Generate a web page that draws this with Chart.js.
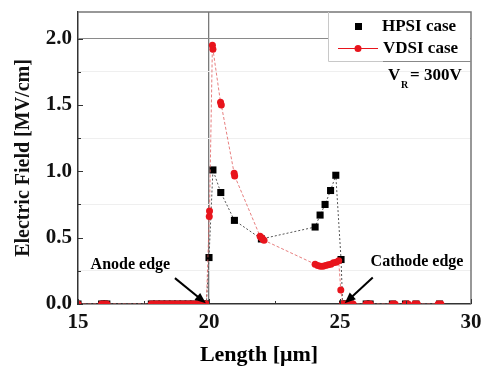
<!DOCTYPE html>
<html>
<head>
<meta charset="utf-8">
<script src="https://cdn.jsdelivr.net/npm/chart.js@4"></script>
<style>
  html, body { margin: 0; padding: 0; background: #fff; }
  #wrap { width: 489px; height: 372px; }
</style>
</head>
<body>
<div id="wrap"><canvas id="myChart"></canvas></div>
<script>
// Length [um] / Electric field [MV/cm]
var hpsiX = [15, 15.9, 16.0, 16.1, 17.8, 18.0, 18.2, 18.4, 18.6, 18.8, 19.0, 19.2, 19.4, 19.6, 19.8, 19.9,
             20.0, 20.15, 20.45, 20.97, 22.0, 24.05, 24.24, 24.43, 24.64, 24.84, 25.04, 25.1,
             25.2, 25.4, 26.0, 26.15, 27.0, 27.5, 27.9, 28.8];
var hpsiY = [0, 0, 0, 0, 0, 0, 0, 0, 0, 0, 0, 0, 0, 0, 0, 0,
             0.35, 1.01, 0.84, 0.63, 0.49, 0.58, 0.67, 0.75, 0.855, 0.97, 0.335, 0,
             0, 0, 0, 0, 0, 0, 0, 0];

var vdsiX = [15, 15.9, 16.0, 16.1, 17.8, 17.9, 18.0, 18.1, 18.2, 18.3, 18.4, 18.5, 18.6, 18.7, 18.8, 18.9,
             19.0, 19.1, 19.2, 19.3, 19.4, 19.5, 19.6, 19.7, 19.8, 19.9,
             20.01, 20.02, 20.13, 20.15, 20.44, 20.47, 20.96, 20.98, 21.95, 22.0, 22.05, 22.1,
             24.05, 24.15, 24.25, 24.35, 24.45, 24.55, 24.65, 24.75, 24.85, 24.95, 25.03, 25.1,
             25.2, 25.3, 25.4, 25.5, 26.0, 26.15, 27.0, 27.1, 27.5, 27.6, 27.85, 27.95, 28.75, 28.85];
var vdsiY = [0, 0, 0, 0, 0, 0, 0, 0, 0, 0, 0, 0, 0, 0, 0, 0,
             0, 0, 0, 0, 0, 0, 0, 0, 0, 0,
             0.66, 0.70, 1.95, 1.92, 1.52, 1.50, 0.985, 0.965, 0.51, 0.50, 0.49, 0.48,
             0.30, 0.29, 0.285, 0.285, 0.29, 0.295, 0.30, 0.31, 0.315, 0.325, 0.106, 0,
             0, 0, 0, 0, 0, 0, 0, 0, 0, 0, 0, 0, 0, 0];

var xTicks = [15, 20, 25, 30];
var yTicks = [0.0, 0.5, 1.0, 1.5, 2.0];
var seriesNames = ['HPSI case', 'VDSI case'];

var serif = "'Liberation Serif', 'Times New Roman', serif";

function pts(xs, ys) {
    return xs.map(function(x, i) { return {x: x, y: ys[i]}; });
}

var extras = {
    id: 'extras',
    afterDraw: function(chart) {
        var c = chart.ctx, a = chart.chartArea;
        var xs = chart.scales.x, ys = chart.scales.y;
        c.save();

        // top / right frame
        c.strokeStyle = '#777';
        c.lineWidth = 1.5;
        c.beginPath();
        c.moveTo(a.left, a.top);
        c.lineTo(a.right, a.top);
        c.lineTo(a.right, a.bottom);
        c.stroke();

        // inward ticks
        c.strokeStyle = '#333';
        c.lineWidth = 1;
        xs.ticks.forEach(function(t) {
            var px = Math.round(xs.getPixelForValue(t.value)) + 0.5;
            var len = xTicks.indexOf(t.value) >= 0 ? 5 : 3;
            c.beginPath(); c.moveTo(px, a.bottom); c.lineTo(px, a.bottom - len); c.stroke();
        });
        ys.ticks.forEach(function(t) {
            if (t.value > 2.1) return;
            var py = Math.round(ys.getPixelForValue(t.value)) + 0.5;
            var len = yTicks.indexOf(t.value) >= 0 ? 5 : 3;
            c.beginPath(); c.moveTo(a.left, py); c.lineTo(a.left + len, py); c.stroke();
        });

        // legend box
        var lx = 328, ly = a.top, lr = a.right, lb = 61;
        c.fillStyle = '#fff';
        c.fillRect(lx + 1, ly + 1, lr - lx - 2, lb - ly - 1);
        c.strokeStyle = '#c8c8c8';
        c.lineWidth = 1;
        c.beginPath(); c.moveTo(lx + 0.5, ly); c.lineTo(lx + 0.5, lb + 0.5); c.lineTo(lr, lb + 0.5); c.stroke();
        c.strokeStyle = '#888';
        c.beginPath(); c.moveTo(383, lb + 0.5); c.lineTo(lr, lb + 0.5); c.stroke();

        c.font = 'bold 17px ' + serif;
        c.textBaseline = 'middle';
        c.textAlign = 'left';
        c.fillStyle = '#000';
        c.fillRect(355, 23, 7, 7);
        c.fillText(seriesNames[0], 382, 27);
        c.strokeStyle = '#e8141c';
        c.beginPath(); c.moveTo(338, 48.5); c.lineTo(378, 48.5); c.stroke();
        c.fillStyle = '#e8141c';
        c.beginPath(); c.arc(358, 48.5, 3.5, 0, Math.PI * 2); c.fill();
        c.fillStyle = '#000';
        c.fillText(seriesNames[1], 383, 49);

        // V_R = 300V
        c.fillText('V', 388, 76);
        c.font = 'bold 10px ' + serif;
        c.fillText('R', 401, 85);
        c.font = 'bold 17px ' + serif;
        c.fillText('= 300V', 410, 76);

        // edge annotations
        function arrow(x1, y1, x2, y2) {
            var p1x = xs.getPixelForValue(x1), p1y = ys.getPixelForValue(y1);
            var p2x = xs.getPixelForValue(x2), p2y = ys.getPixelForValue(y2);
            var ang = Math.atan2(p2y - p1y, p2x - p1x);
            c.strokeStyle = '#000';
            c.lineWidth = 2;
            c.beginPath(); c.moveTo(p1x, p1y);
            c.lineTo(p2x - 8 * Math.cos(ang), p2y - 8 * Math.sin(ang)); c.stroke();
            c.fillStyle = '#000';
            c.beginPath();
            c.moveTo(p2x, p2y);
            c.lineTo(p2x - 11 * Math.cos(ang) + 4.5 * Math.sin(ang), p2y - 11 * Math.sin(ang) - 4.5 * Math.cos(ang));
            c.lineTo(p2x - 11 * Math.cos(ang) - 4.5 * Math.sin(ang), p2y - 11 * Math.sin(ang) + 4.5 * Math.cos(ang));
            c.closePath(); c.fill();
        }
        arrow(18.7, 0.195, 19.88, 0.005);
        arrow(26.25, 0.2, 25.18, 0.005);

        c.font = 'bold 16px ' + serif;
        c.textAlign = 'center';
        c.fillStyle = '#000';
        c.fillText('Anode edge', xs.getPixelForValue(17.0), ys.getPixelForValue(0.294));
        c.fillText('Cathode edge', xs.getPixelForValue(27.94), ys.getPixelForValue(0.317));

        // x axis title
        c.font = 'bold 22px ' + serif;
        c.fillText('Length [\u03bcm]', 259, 355);

        c.restore();
    }
};

var ctx = document.getElementById('myChart');
var myChart = new Chart(ctx, {
    type: 'line',
    data: {
        datasets: [{
            label: seriesNames[1],
            data: pts(vdsiX, vdsiY),
            borderColor: 'rgba(225, 95, 95, 0.8)',
            borderWidth: 1,
            borderDash: [3, 2],
            backgroundColor: '#e8141c',
            pointBackgroundColor: '#e8141c',
            pointBorderColor: '#e8141c',
            pointBorderWidth: 0,
            pointRadius: 3.5,
            pointStyle: 'circle',
            order: 0
        }, {
            label: seriesNames[0],
            data: pts(hpsiX, hpsiY),
            borderColor: '#555',
            borderWidth: 1,
            borderDash: [2, 2],
            pointBackgroundColor: '#000',
            pointBorderColor: '#000',
            pointBorderWidth: 0,
            pointRadius: 5,
            pointStyle: 'rect',
            order: 1
        }]
    },
    options: {
        responsive: true,
        maintainAspectRatio: false,
        devicePixelRatio: 1,
        animation: false,
        layout: { padding: { left: 0, right: 18, top: 12, bottom: 0 } },
        scales: {
            x: {
                type: 'linear',
                min: 15,
                max: 30,
                ticks: {
                    stepSize: 2.5,
                    autoSkip: false,
                    maxRotation: 0,
                    padding: 6,
                    color: '#111',
                    font: { family: serif, size: 21, weight: 'bold' },
                    callback: function(v) { return xTicks.indexOf(v) >= 0 ? String(v) : ''; }
                },
                grid: {
                    drawTicks: false,
                    lineWidth: 1.3,
                    color: function(c) { return c.tick && c.tick.value === 20 ? '#7a7a7a' : 'rgba(0,0,0,0)'; }
                },
                border: { color: '#333', width: 1.5 },
                afterFit: function(s) { s.height = 68; s.paddingLeft = 0; s.paddingRight = 0; }
            },
            y: {
                min: 0,
                max: 2.2,
                ticks: {
                    stepSize: 0.25,
                    autoSkip: false,
                    padding: 6,
                    color: '#111',
                    font: { family: serif, size: 21, weight: 'bold' },
                    callback: function(v) { return yTicks.indexOf(v) >= 0 ? v.toFixed(1) : ''; }
                },
                grid: {
                    drawTicks: false,
                    lineWidth: 1,
                    color: function(c) {
                        if (!c.tick) return 'rgba(0,0,0,0)';
                        var v = c.tick.value;
                        if (v === 2) return '#8a8a8a';
                        if (Math.abs(v * 4 - Math.round(v * 4)) < 1e-6 && Math.round(v * 4) % 2 === 1) return '#efefef';
                        return 'rgba(0,0,0,0)';
                    }
                },
                border: { color: '#333', width: 1.5 },
                title: {
                    display: true,
                    text: 'Electric Field [MV/cm]',
                    color: '#111',
                    padding: { top: 12, bottom: 0 },
                    font: { family: serif, size: 20, weight: 'bold' }
                },
                afterFit: function(s) { s.width = 78; s.paddingTop = 0; s.paddingBottom = 0; }
            }
        },
        plugins: {
            legend: { display: false },
            tooltip: { enabled: false }
        }
    },
    plugins: [extras]
});
</script>
</body>
</html>
